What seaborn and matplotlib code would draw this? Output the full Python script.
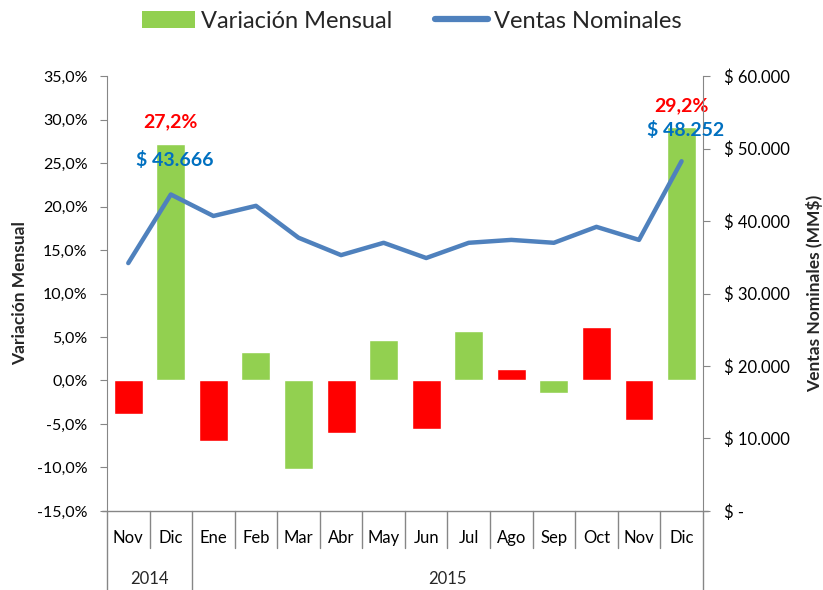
import matplotlib
matplotlib.use("Agg")
import matplotlib.pyplot as plt
import seaborn as sns
import numpy as np
import pandas as pd
from matplotlib.patches import Patch
from matplotlib.lines import Line2D
from matplotlib.ticker import FuncFormatter

months = ["Nov", "Dic", "Ene", "Feb", "Mar", "Abr", "May", "Jun", "Jul", "Ago", "Sep", "Oct", "Nov", "Dic"]
years = ["2014", "2015"]
year_counts = [2, 12]
variacion = [-3.8, 27.2, -7.0, 3.3, -10.2, -6.0, 4.6, -5.6, 5.7, 1.3, -1.4, 6.2, -4.6, 29.2]
ventas = [34200, 43666, 40700, 42100, 37700, 35300, 37000, 34900, 37000, 37400, 37000, 39200, 37400, 48252]
bar_colors = ["#FF0000", "#92D050", "#FF0000", "#92D050", "#92D050", "#FF0000", "#92D050",
              "#FF0000", "#92D050", "#FF0000", "#92D050", "#FF0000", "#FF0000", "#92D050"]

GREEN = "#92D050"
BLUE = "#4F81BD"
GRAY = "#868686"

sns.set_style("white")
plt.rcParams["font.family"] = ["Lato", "DejaVu Sans"]

df = pd.DataFrame({"pos": np.arange(len(months)), "var": variacion, "ventas": ventas})

fig = plt.figure(figsize=(8.23, 5.90), dpi=100)
ax = fig.add_axes([0.130, 0.134, 0.724, 0.737])

sns.barplot(data=df, x="pos", y="var", hue="pos", palette=bar_colors, legend=False,
            native_scale=True, width=0.68, ax=ax, saturation=1)
ax.set_xlim(-0.5, len(months) - 0.5)
ax.set_ylim(-15, 35)
ax.set_yticks(np.arange(-15, 36, 5))
ax.yaxis.set_major_formatter(FuncFormatter(lambda v, p: f"{v:.1f}%".replace(".", ",")))

ax2 = ax.twinx()
sns.lineplot(data=df, x="pos", y="ventas", color=BLUE, lw=3.2, ax=ax2,
             solid_capstyle="round", solid_joinstyle="round")
ax2.set_ylim(0, 60000)
ax2.set_yticks(np.arange(0, 60001, 10000))
ax2.yaxis.set_major_formatter(FuncFormatter(
    lambda v, p: "$ -" if v == 0 else "$ " + f"{int(v):,}".replace(",", ".")))
ax2.set_xlim(-0.5, len(months) - 0.5)

for a in (ax, ax2):
    for s in a.spines.values():
        s.set_visible(False)
    a.set_xlabel("")
    a.grid(False)
ax.spines["left"].set_visible(True)
ax.spines["left"].set_color(GRAY)
ax2.spines["right"].set_visible(True)
ax2.spines["right"].set_color(GRAY)

ax.tick_params(axis="y", direction="out", length=5, color=GRAY, labelsize=11.5,
               labelcolor="black", left=True, pad=9)
ax2.tick_params(axis="y", direction="out", length=5, color=GRAY, labelsize=12,
                labelcolor="black", right=True, pad=10)
ax.set_ylabel("Variación Mensual", fontsize=12.5, fontweight="bold", labelpad=6)
ax2.set_ylabel("Ventas Nominales (MM$)", fontsize=12.5, fontweight="bold", labelpad=12)

# category axis
ax.set_xticks(df["pos"])
ax.set_xticklabels(months, fontsize=12)
ax.tick_params(axis="x", length=0, pad=14, labelcolor="black")

trans = ax.get_xaxis_transform()
ax.plot([-0.62, len(months) - 0.38], [0, 0], transform=trans, color=GRAY, lw=1.0, clip_on=False)
year_bounds = np.cumsum([0] + year_counts) - 0.5
for b in np.arange(-0.5, len(months), 1.0):
    is_year = np.any(np.isclose(b, year_bounds))
    y_end = -0.215 if is_year else -0.085
    ax.plot([b, b], [0, y_end], transform=trans, color=GRAY, lw=1.0, clip_on=False)
for i, yl in enumerate(years):
    center = (year_bounds[i] + year_bounds[i + 1]) / 2
    ax.text(center, -0.157, yl, transform=trans, ha="center", va="center", fontsize=12)

# annotations
ax.text(1, 27.2 + 1.6, "27,2%", color="#FF0000", fontsize=14, fontweight="bold", ha="center", va="bottom")
ax2.text(1.1, 43666 + 3500, "$ 43.666", color="#0070C0", fontsize=14, fontweight="bold", ha="center", va="bottom")
ax.text(13, 29.2 + 1.4, "29,2%", color="#FF0000", fontsize=14, fontweight="bold", ha="center", va="bottom")
ax2.text(13.1, 48252 + 3100, "$ 48.252", color="#0070C0", fontsize=14, fontweight="bold", ha="center", va="bottom")

handles = [Patch(facecolor=GREEN, edgecolor="none"),
           Line2D([0], [0], color=BLUE, lw=4.5, solid_capstyle="round")]
fig.legend(handles, ["Variación Mensual", "Ventas Nominales"], loc="center",
           bbox_to_anchor=(0.5, 1 - 21 / 590), ncol=2, frameon=False, fontsize=17,
           handlelength=2.25, handleheight=0.75, columnspacing=1.8, handletextpad=0.25,
           borderpad=0.0)

fig.savefig("out.png", dpi=100)
